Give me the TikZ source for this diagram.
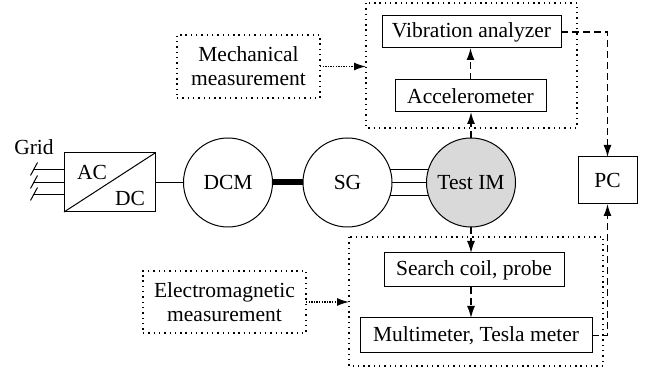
\documentclass[tikz,border=0pt]{standalone}
\usepackage{fontspec}
\setmainfont{Liberation Serif}
\newfontfamily\diagfont{Liberation Serif}
\usetikzlibrary{arrows.meta,calc}
\definecolor{imgray}{RGB}{217,217,217}
\begin{document}
\begin{tikzpicture}[x=1pt,y=-1pt,
  font=\diagfont\fontsize{21.5}{24}\selectfont,
  every node/.style={inner sep=0pt,outer sep=0pt},
  blk/.style={draw,line width=1pt,minimum width=#1},
  machine/.style={draw,line width=1pt,circle,minimum size=89pt,fill=white},
  group/.style={draw,line width=1.4pt,dash pattern=on 1.4pt off 3.9pt},
  label/.style={group,align=center},
  tip/.style={-{Latex[length=12pt,width=8pt]}},
  sig/.style={line width=1.4pt,dash pattern=on 7pt off 4pt,tip},
  hint/.style={line width=1.4pt,dash pattern=on 1.4pt off 1.2pt,tip},
  wire/.style={line width=1pt}]
\useasboundingbox (0,0) rectangle (646,371);

% measurement groups
\draw[group] (366,3) rectangle (577,128);
\coordinate (mgw) at (366,66.5);
\draw[group] (349,237) rectangle (603,366);
\coordinate (egw) at (349,302);

% converter
\node[blk=91pt,minimum height=59pt] (acdc) at (109.5,182.5) {};
\draw[wire] (acdc.south west) -- (acdc.north east);
\node (ac) at (92,172) {AC};
\node (dc) at (130,198) {DC};
\node (grid) at (34,147) {Grid};

% three-phase supply
\foreach \dy in {13,0,-12}{
  \draw[wire] ([yshift=\dy pt]acdc.west) -- ++(-31,0) coordinate (g\dy);
  \draw[wire] ($(g\dy)+(4.5,-7)$) -- ($(g\dy)+(-2.5,6)$);
}

% machines
\node[machine] (dcm) at (228,182.5) {DCM};
\node[machine] (sg) at (347.5,182.5) {SG};
\node[machine,fill=imgray] (im) at (471,182.5) {Test IM};

\draw[wire] (acdc.east) -- (dcm.west);
\draw[line width=6pt] (dcm.east) -- (sg.west);
\draw[wire] (sg.17) -- (im.163);
\draw[wire] (sg.0) -- (im.180);
\draw[wire] (sg.-17) -- (im.-163);

% mechanical chain
\node[blk=179pt,minimum height=32pt] (vib) at (471.5,32) {Vibration analyzer};
\node[blk=151pt,minimum height=32pt] (acc) at (470.5,96) {Accelerometer};
\draw[sig] (im.north) -- (im.north |- acc.south);
\draw[sig] (acc.north) -- (acc.north |- vib.south);

% electromagnetic chain
\node[blk=180pt,minimum height=34pt] (coil) at (474,270) {Search coil, probe};
\node[blk=232pt,minimum height=35pt] (multi) at (476,335.5) {Multimeter, Tesla meter};
\draw[sig] (im.south) -- (im.south |- coil.north);
\draw[sig] (im.south |- coil.south) -- (im.south |- multi.north);

% computer
\node[blk=59pt,minimum height=47pt] (pc) at (607.5,180.5) {PC};
\draw[sig] (vib.east) -| (pc.north);
\draw[sig] (multi.east) -| (pc.south);

% group labels
\node[label,minimum width=143pt,minimum height=63pt] (mech) at (248.5,66.5) {Mechanical\\measurement};
\node[label,minimum width=163pt,minimum height=62pt] (em) at (224.5,302) {Electromagnetic\\measurement};
\draw[hint] (mech.east) -- (mgw);
\draw[hint] (em.east) -- (egw);
\end{tikzpicture}
\end{document}
